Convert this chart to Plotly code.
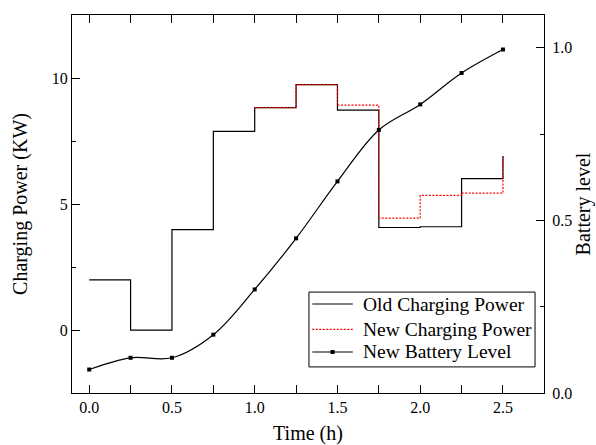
import plotly.graph_objects as go

# Time steps (h) at which each charging interval starts
time_h = [0.0, 0.25, 0.5, 0.75, 1.0, 1.25, 1.5, 1.75, 2.0, 2.25, 2.5]

# Charging power per 15-min interval (kW); last value closes the final step
old_power = [2.0, 0.0, 4.0, 7.9, 8.85, 9.76, 8.75, 4.08, 4.11, 6.02, 6.92]

# Revised schedule only differs from t = 1.0 h onwards
new_time_h = [1.0, 1.25, 1.5, 1.75, 2.0, 2.25, 2.5]
new_power = [8.85, 9.76, 8.95, 4.45, 5.36, 5.45, 6.92]

# State of charge under the revised schedule
battery_level = [0.068, 0.102, 0.102, 0.169, 0.30, 0.448, 0.613, 0.762, 0.836, 0.927, 0.995]

series_names = ["Old Charging Power", "New Charging Power", "New Battery Level"]

SERIF = "Liberation Serif"
OLD_LINE = dict(color="black", width=1.2)
NEW_LINE = dict(color="#ff0000", width=1.2, dash="2px,1.5px")
SOC_LINE = dict(color="black", width=1.2)

fig = go.Figure()

fig.add_trace(go.Scatter(
    x=time_h, y=old_power, name=series_names[0],
    mode="lines", line=dict(**OLD_LINE, shape="hv"),
))
fig.add_trace(go.Scatter(
    x=new_time_h, y=new_power, name=series_names[1],
    mode="lines", line=dict(**NEW_LINE, shape="hv"),
))
fig.add_trace(go.Scatter(
    x=time_h, y=battery_level, name=series_names[2], yaxis="y2",
    mode="lines+markers",
    line=dict(**SOC_LINE, shape="spline", smoothing=1.0),
    marker=dict(symbol="square", size=4, color="black"),
))

# Boxed legend in the lower right of the plot area (paper coordinates)
box_x0, box_x1, box_y0, box_y1 = 0.502, 0.981, 0.069, 0.267
row_y = [0.2354, 0.1685, 0.1085]
sample_x0, sample_x1, text_x = 0.509, 0.595, 0.612
shapes = [dict(type="rect", xref="paper", yref="paper",
               x0=box_x0, x1=box_x1, y0=box_y0, y1=box_y1,
               line=dict(color="black", width=1), fillcolor="white", layer="above")]
annotations = []
for name, yy, ln in zip(series_names, row_y, [OLD_LINE, NEW_LINE, SOC_LINE]):
    shapes.append(dict(type="line", xref="paper", yref="paper",
                       x0=sample_x0, x1=sample_x1, y0=yy, y1=yy,
                       line=ln, layer="above"))
    annotations.append(dict(xref="paper", yref="paper", x=text_x, y=yy,
                            text=name, showarrow=False, xanchor="left", yanchor="middle",
                            font=dict(family=SERIF, size=19.5, color="black")))
# marker glyph on the battery sample line
mid_x = (sample_x0 + sample_x1) / 2
shapes.append(dict(type="rect", xref="paper", yref="paper",
                   xsizemode="pixel", ysizemode="pixel", xanchor=mid_x, yanchor=row_y[2],
                   x0=-2, x1=2, y0=-2, y1=2,
                   line=dict(width=0), fillcolor="black", layer="above"))

axis_common = dict(
    showgrid=False, zeroline=False, showline=True, linecolor="black", linewidth=1.3,
    ticks="inside", tickcolor="black", tickwidth=1.2, ticklen=8,
    tickfont=dict(family=SERIF, size=16, color="black"),
    automargin=False,
)
title_font = dict(family=SERIF, size=20, color="black")
minor_common = dict(ticks="inside", tick0=0, ticklen=4, tickcolor="black", tickwidth=1.2)

fig.update_layout(
    width=596, height=445,
    margin=dict(l=72, r=52, t=15, b=52),
    paper_bgcolor="white", plot_bgcolor="white",
    font=dict(family=SERIF, color="black"),
    showlegend=False,
    shapes=shapes,
    annotations=annotations,
    xaxis=dict(
        **axis_common,
        range=[-0.104, 2.748], tick0=0, dtick=0.5, tickformat=".1f",
        mirror="allticks",
        minor=dict(**minor_common, dtick=0.25),
        title=dict(text="Time (h)", font=title_font, standoff=21),
    ),
    yaxis=dict(
        **axis_common,
        range=[-2.5, 12.53], tick0=0, dtick=5,
        minor=dict(**minor_common, dtick=2.5),
        title=dict(text="Charging Power (KW)", font=title_font, standoff=18),
    ),
    yaxis2=dict(
        **axis_common,
        overlaying="y", side="right", anchor="x",
        range=[0, 1.095], tick0=0, dtick=0.5, tickformat=".1f",
        ticklabelstandoff=4,
        minor=dict(**minor_common, dtick=0.25),
        title=dict(text="Battery level", font=title_font, standoff=3),
    ),
)

fig.write_html("out.html")
